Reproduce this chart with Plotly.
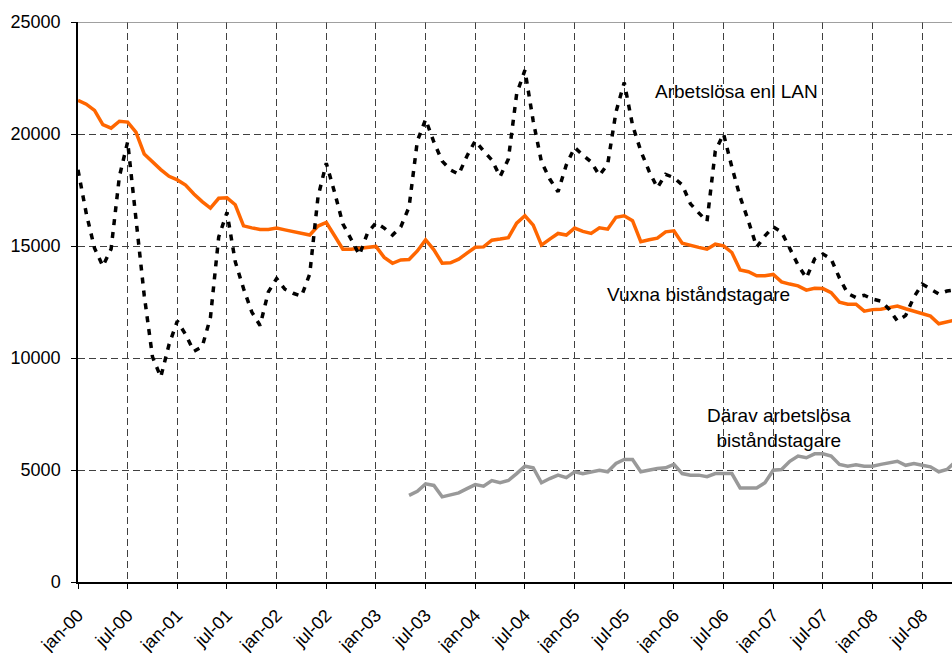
import plotly.graph_objects as go

# Monthly series, jan-00 .. nov-08 (month index 0..106)
months = list(range(107))

tick_pos = list(range(0, 103, 6))
tick_labels = ["jan-00", "jul-00", "jan-01", "jul-01", "jan-02", "jul-02",
               "jan-03", "jul-03", "jan-04", "jul-04", "jan-05", "jul-05",
               "jan-06", "jul-06", "jan-07", "jul-07", "jan-08", "jul-08"]

y_tick_vals = [0, 5000, 10000, 15000, 20000, 25000]
y_tick_labels = ["0", "5000", "10000", "15000", "20000", "25000"]

arbetslosa_lan = [
    18400, 16450, 14900, 14100, 14870, 18100, 19650, 16300, 12800, 10050,
    9150, 10600, 11650, 11050, 10300, 10500, 11800, 15400, 16500, 14300,
    13100, 12050, 11450, 12950, 13550, 13070, 12890, 12760, 13750, 17200,
    18700, 17400, 15990, 15300, 14600, 15600, 16030, 15800, 15490, 15850,
    16740, 19690, 20650, 19640, 18790, 18400, 18200, 19020, 19700, 19240,
    18840, 18100, 18880, 21790, 22850, 20580, 18750, 17990, 17420, 18620,
    19400, 19060, 18750, 18150, 18660, 20980, 22300, 20400, 19240, 18340,
    17600, 18200, 18050, 17730, 16880, 16480, 16100, 19240, 20000, 18530,
    17190, 16120, 14950, 15450, 15850, 15630, 14870, 14150, 13570, 14420,
    14640, 14420, 13570, 12880, 12700, 12800, 12630, 12540, 12180, 11650,
    11900, 12720, 13300, 13080, 12860, 12990, 13050]

vuxna_bistandstagare = [
    21500, 21330, 21050, 20420, 20260, 20570, 20530, 20080, 19110, 18740,
    18410, 18110, 17950, 17720, 17320, 16980, 16690, 17130, 17150, 16840,
    15900, 15810, 15740, 15740, 15800, 15720, 15650, 15570, 15490, 15890,
    16050, 15460, 14860, 14860, 14890, 14950, 14980, 14490, 14230, 14380,
    14400, 14780, 15280, 14830, 14230, 14250, 14410, 14680, 14940, 14960,
    15260, 15310, 15370, 16020, 16350, 15930, 15040, 15310, 15560, 15490,
    15800, 15650, 15560, 15810, 15750, 16280, 16350, 16130, 15190, 15280,
    15350, 15630, 15680, 15120, 15010, 14940, 14860, 15080, 15010, 14710,
    13930, 13850, 13670, 13670, 13730, 13400, 13300, 13220, 13030, 13110,
    13100, 12920, 12490, 12400, 12400, 12090, 12160, 12180, 12250, 12320,
    12200, 12090, 12000, 11870, 11530, 11630, 11700]

darav_arbetslosa = [None] * 40 + [
    3870, 4050, 4380, 4310, 3800, 3900, 3980, 4170, 4350, 4280,
    4530, 4430, 4530, 4840, 5170, 5100, 4430, 4620, 4770, 4660,
    4920, 4830, 4900, 4990, 4920, 5290, 5470, 5470, 4920, 4990,
    5070, 5100, 5250, 4840, 4770, 4770, 4700, 4840, 4840, 4840,
    4200, 4200, 4200, 4430, 4990, 5020, 5390, 5620, 5545, 5720,
    5720, 5620, 5250, 5170, 5230, 5170, 5170, 5250, 5320, 5390,
    5210, 5290, 5210, 5140, 4920, 5020, 5370]

FONT = "Liberation Sans, Arial, sans-serif"

fig = go.Figure()
fig.add_trace(go.Scatter(x=months, y=darav_arbetslosa, mode="lines",
                         line=dict(color="#999999", width=3.5),
                         connectgaps=False, hoverinfo="skip"))
fig.add_trace(go.Scatter(x=months, y=vuxna_bistandstagare, mode="lines",
                         line=dict(color="#FF6600", width=3.5),
                         hoverinfo="skip"))
fig.add_trace(go.Scatter(x=months, y=arbetslosa_lan, mode="lines",
                         line=dict(color="#000000", width=3.5, dash="6px,7px"),
                         hoverinfo="skip"))

fig.add_annotation(x=79.6, y=21880, text="Arbetslösa enl LAN", showarrow=False,
                   font=dict(family=FONT, size=19, color="#000000"))
fig.add_annotation(x=75.0, y=12850, text="Vuxna biståndstagare", showarrow=False,
                   font=dict(family=FONT, size=19, color="#000000"))
fig.add_annotation(x=84.7, y=6890, text="Därav arbetslösa<br>biståndstagare",
                   showarrow=False, align="center",
                   font=dict(family=FONT, size=19, color="#000000"))

fig.add_shape(type="line", xref="paper", x0=0, x1=1, yref="y", y0=25000, y1=25000,
              line=dict(color="#808080", width=1.5), layer="above")

fig.update_layout(
    width=952, height=653,
    margin=dict(l=78, r=0, t=22, b=71),
    paper_bgcolor="white", plot_bgcolor="white",
    showlegend=False, hovermode=False,
    font=dict(family=FONT, size=18, color="#000000"),
    xaxis=dict(range=[0, 105.6], tickvals=tick_pos, ticktext=tick_labels,
               tickangle=-45, showgrid=True, gridcolor="#404040", gridwidth=1,
               griddash="7px,4px", showline=True, linecolor="#000000", linewidth=1.5,
               ticks="outside", ticklen=5, tickcolor="#000000", zeroline=False,
               ticklabelstandoff=9, automargin=False,
               tickfont=dict(family=FONT, size=18, color="#000000")),
    yaxis=dict(range=[0, 25000], tickvals=y_tick_vals, ticktext=y_tick_labels,
               showgrid=True, gridcolor="#404040", gridwidth=1, griddash="7px,4px",
               showline=True, linecolor="#000000", linewidth=1.5,
               ticks="outside", ticklen=5, tickcolor="#000000", zeroline=False,
               ticklabelstandoff=7, automargin=False,
               tickfont=dict(family=FONT, size=18, color="#000000")),
)

fig.write_html("out.html", config={"displayModeBar": False},
               post_script="document.body.style.margin='0';document.body.style.overflow='hidden';")
